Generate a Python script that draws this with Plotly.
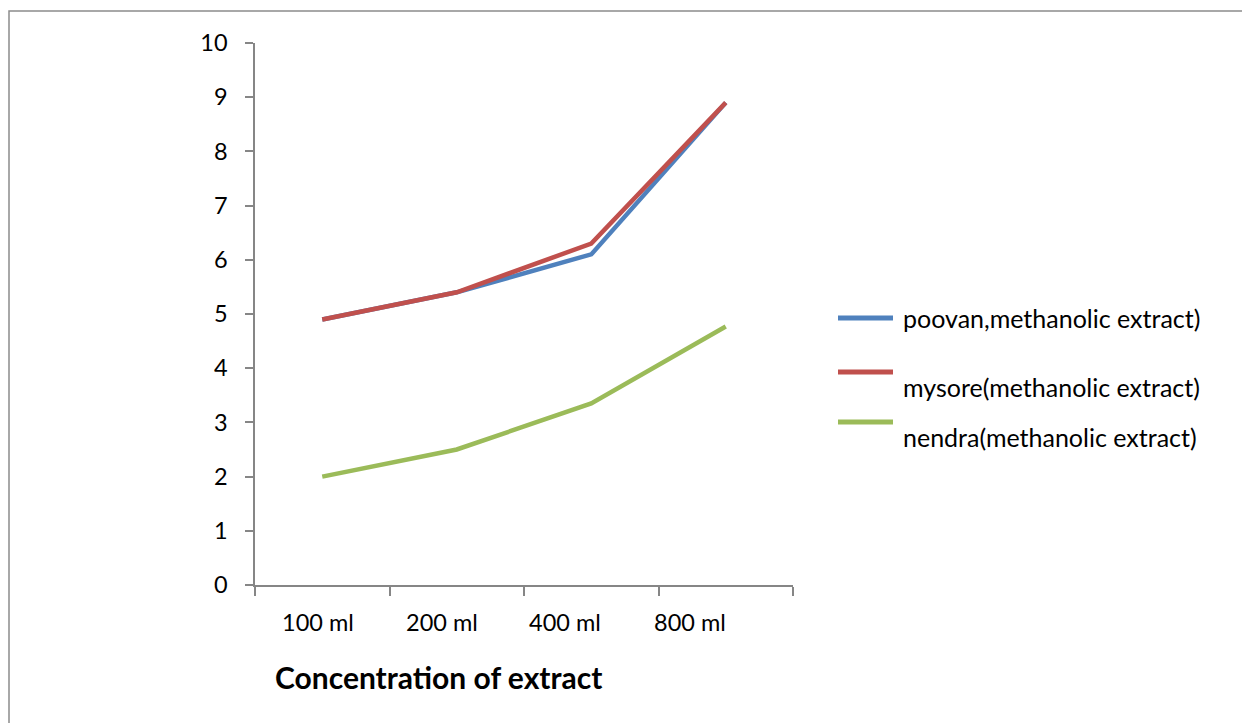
import plotly.graph_objects as go

categories = ["100 ml", "200 ml", "400 ml", "800 ml"]
poovan = [4.9, 5.4, 6.1, 8.9]
mysore = [4.9, 5.4, 6.3, 8.9]
nendra = [2.0, 2.5, 3.35, 4.77]
series_names = ["poovan,methanolic extract)", "mysore(methanolic extract)", "nendra(methanolic extract)"]
colors = ["#4F81BD", "#C0504D", "#9BBB59"]
y_ticks = [0, 1, 2, 3, 4, 5, 6, 7, 8, 9, 10]

W, H = 1250, 723
OFF = 8  # page body margin offset
L, R, T, B = 255 - OFF, 793 - OFF, 43 - OFF, 585 - OFF
pw, ph = R - L, B - T

def px(x):
    return (x - OFF - L) / pw

def py(y):
    return (B - (y - OFF)) / ph

fig = go.Figure()
for name, vals, c in zip(series_names, [poovan, mysore, nendra], colors):
    fig.add_trace(go.Scatter(x=categories, y=vals, mode="lines", name=name,
                             line=dict(color=c, width=4.5), showlegend=False))

font = "Lato, 'Open Sans', sans-serif"
axis_col = "#868686"

fig.update_layout(
    width=W, height=H,
    margin=dict(l=L, r=W - R, t=T, b=H - B, pad=0),
    paper_bgcolor="white", plot_bgcolor="white",
    font=dict(family=font, color="black"),
    xaxis=dict(type="category", range=[-0.5, 3.5], tickson="boundaries",
               ticks="outside", ticklen=9, tickcolor=axis_col, tickwidth=1.5,
               showline=True, linecolor=axis_col, linewidth=1.5, showgrid=False,
               zeroline=False, showticklabels=False),
    yaxis=dict(range=[0, 10], tickvals=y_ticks, ticks="outside", ticklen=8,
               tickcolor=axis_col, tickwidth=1.5, showline=True, linecolor=axis_col,
               linewidth=1.5, showgrid=False, zeroline=False,
               tickfont=dict(size=23.5, color="black"), ticklabelstandoff=13),
)

# category labels (as rendered in the reference, slightly compressed to the left)
label_x = [317.5, 441.6, 565, 689.6]
for cat, lx in zip(categories, label_x):
    fig.add_annotation(text=cat, xref="paper", yref="paper", x=px(lx), y=py(622),
                       showarrow=False, xanchor="center", yanchor="middle",
                       font=dict(size=23.5, color="black", family=font))

# x-axis title
fig.add_annotation(text="<b>Concentration of extract</b>", xref="paper", yref="paper",
                   x=px(438), y=py(677), showarrow=False, xanchor="center", yanchor="middle",
                   font=dict(size=30, color="black", family=font))

# custom legend replicating Excel layout
line_y = [318, 372, 422]
text_y = [318, 387, 437]
for name, c, ly, ty in zip(series_names, colors, line_y, text_y):
    fig.add_shape(type="line", xref="paper", yref="paper", x0=px(838), x1=px(893),
                  y0=py(ly), y1=py(ly), line=dict(color=c, width=5))
    fig.add_annotation(text=name, xref="paper", yref="paper", x=px(901), y=py(ty),
                       showarrow=False, xanchor="left", yanchor="middle",
                       font=dict(size=25, color="black", family=font))

# outer chart border
fig.add_shape(type="rect", xref="paper", yref="paper", x0=px(9), x1=px(1270),
              y0=py(740), y1=py(11), line=dict(color="#8c8c8c", width=1.5),
              fillcolor="rgba(0,0,0,0)", layer="below")

fig.write_html("out.html")
